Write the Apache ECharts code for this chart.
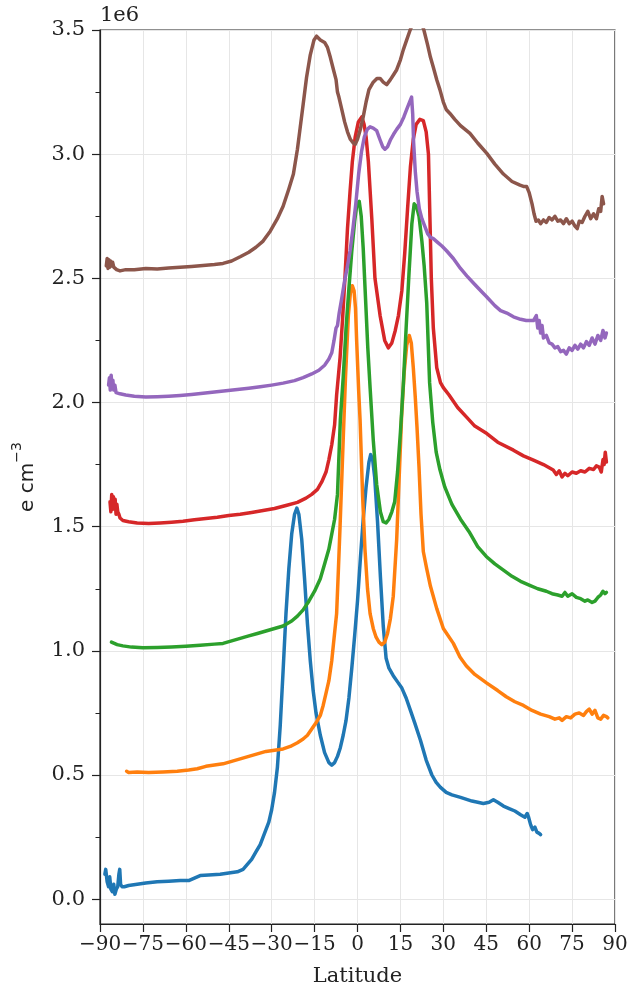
<!DOCTYPE html>
<html>
<head>
<meta charset="utf-8">
<script src="https://cdn.jsdelivr.net/npm/echarts@6/dist/echarts.min.js"></script>
<style>
  html, body { margin: 0; padding: 0; background: #fff; }
  #main { width: 631px; height: 992px; }
</style>
</head>
<body>
<div id="main"></div>
<script>
// axis ticks
const latTicks = [-90, -75, -60, -45, -30, -15, 0, 15, 30, 45, 60, 75, 90]
const yMajorTicks = [0, 0.5, 1.0, 1.5, 2.0, 2.5, 3.0, 3.5]
const yMinorTicks = [0.25, 0.75, 1.25, 1.75, 2.25, 2.75, 3.25]

// electron density profiles, [latitude, value in 1e6 e cm^-3]
const profile1 = [
  [-88.3, 0.10], [-88.0, 0.12], [-87.5, 0.07], [-87.0, 0.05], [-86.6, 0.09], [-86.2, 0.04],
  [-85.7, 0.03], [-85.2, 0.06], [-84.8, 0.02], [-84.3, 0.04], [-83.8, 0.05], [-83.4, 0.10],
  [-83.1, 0.12], [-82.8, 0.06], [-82.3, 0.05], [-81.5, 0.05], [-80, 0.055], [-77, 0.06],
  [-74, 0.065], [-70, 0.07], [-66, 0.072], [-62, 0.075], [-59, 0.075], [-57, 0.085],
  [-55, 0.095], [-52, 0.097], [-48, 0.10], [-45, 0.105], [-42, 0.11], [-40, 0.12],
  [-38.5, 0.14], [-37, 0.16], [-35.5, 0.19], [-34, 0.22], [-33, 0.25], [-32, 0.28],
  [-31, 0.31], [-30, 0.36], [-29, 0.43], [-28, 0.53], [-27, 0.70], [-26, 0.92],
  [-25, 1.15], [-24, 1.33], [-23, 1.47], [-22, 1.55], [-21.2, 1.575], [-20.5, 1.55],
  [-19.5, 1.45], [-18.5, 1.29], [-17.5, 1.11], [-16.5, 0.96], [-15.5, 0.84], [-14.5, 0.75],
  [-13, 0.66], [-11.5, 0.59], [-10, 0.55], [-9, 0.54], [-8, 0.55], [-7, 0.575],
  [-6, 0.61], [-5, 0.66], [-4, 0.72], [-3, 0.81], [-2, 0.93], [-1, 1.06], [0, 1.2],
  [1, 1.37], [2, 1.53], [3, 1.66], [4, 1.76], [4.6, 1.79], [5.3, 1.77], [6, 1.70],
  [7, 1.52], [8, 1.30], [9, 1.10], [10, 0.97], [11, 0.93], [12.5, 0.90], [14, 0.875],
  [15.5, 0.85], [17, 0.81], [18.5, 0.76], [20, 0.71], [22, 0.64], [24, 0.56], [26, 0.50],
  [27.5, 0.47], [29, 0.45], [31, 0.43], [33, 0.42], [36, 0.41], [40, 0.395], [44, 0.385],
  [46, 0.39], [47.5, 0.40], [49, 0.39], [51, 0.375], [53, 0.365], [55, 0.355], [57, 0.34],
  [58.5, 0.33], [59.3, 0.345], [59.8, 0.33], [60.5, 0.30], [61.2, 0.28], [62, 0.29],
  [62.7, 0.27], [63.5, 0.265], [64, 0.26]
]
const profile2 = [
  [-80.7, 0.515], [-80, 0.51], [-77, 0.512], [-73, 0.51], [-68, 0.512], [-63, 0.515],
  [-59, 0.52], [-56, 0.525], [-53, 0.535], [-50, 0.54], [-47, 0.545], [-44, 0.555],
  [-41, 0.565], [-38, 0.575], [-35, 0.585], [-32, 0.595], [-29, 0.60], [-26, 0.605],
  [-23.5, 0.615], [-21, 0.63], [-19, 0.645], [-17.5, 0.66], [-16, 0.685], [-14.5, 0.71],
  [-13, 0.74], [-12, 0.78], [-11, 0.83], [-10, 0.88], [-9, 0.96], [-8.2, 1.05],
  [-7.3, 1.15], [-6.7, 1.32], [-6.1, 1.50], [-5, 1.85], [-4.2, 2.10], [-3.2, 2.35],
  [-2.5, 2.44], [-1.8, 2.47], [-1.2, 2.45], [-0.7, 2.38], [-0.3, 2.25], [0.4, 2.05],
  [0.9, 1.93], [1.8, 1.62], [2.6, 1.41], [3.5, 1.25], [4.4, 1.15], [5.5, 1.09],
  [6.5, 1.055], [7.5, 1.035], [8.5, 1.025], [9.5, 1.035], [10.5, 1.07], [11.5, 1.13],
  [12.5, 1.22], [13.7, 1.45], [14.5, 1.68], [15.4, 1.94], [16.3, 2.12], [17.2, 2.23],
  [18.1, 2.27], [18.8, 2.24], [19.5, 2.14], [20.2, 2.02], [20.8, 1.90], [21.5, 1.74],
  [22.2, 1.55], [23, 1.40], [24.2, 1.33], [25.5, 1.26], [27.7, 1.17], [30, 1.09],
  [33.5, 1.03], [35.8, 0.975], [38, 0.94], [41, 0.905], [45.2, 0.87], [49, 0.84],
  [52, 0.815], [55, 0.795], [58, 0.78], [61, 0.76], [64, 0.745], [67, 0.735], [69, 0.725],
  [70.5, 0.73], [71.5, 0.72], [73, 0.735], [74.5, 0.73], [76, 0.745], [77.5, 0.75],
  [79, 0.74], [80, 0.755], [81, 0.765], [82, 0.745], [83, 0.76], [84, 0.73], [85, 0.725],
  [86, 0.74], [87, 0.735], [87.5, 0.73]
]
const profile3 = [
  [-86, 1.035], [-85.5, 1.04], [-85, 1.03], [-84, 1.025], [-82, 1.02], [-79, 1.015],
  [-75, 1.012], [-70, 1.013], [-65, 1.015], [-60, 1.018], [-55, 1.022], [-50, 1.027],
  [-47, 1.03], [-44, 1.04], [-41, 1.05], [-38, 1.06], [-35, 1.07], [-32, 1.08],
  [-29, 1.09], [-26, 1.10], [-23, 1.12], [-21, 1.14], [-19, 1.165], [-17, 1.20],
  [-15, 1.24], [-13, 1.29], [-11.5, 1.35], [-10, 1.41], [-9, 1.47], [-8, 1.53],
  [-7, 1.63], [-6, 1.93], [-5, 2.10], [-4, 2.30], [-3, 2.46], [-2, 2.61], [-1, 2.73],
  [-0.2, 2.80], [0.6, 2.81], [1.3, 2.75], [2, 2.62], [2.8, 2.42], [3.6, 2.22],
  [4.4, 2.06], [5.5, 1.85], [6.7, 1.67], [8, 1.56], [9, 1.52], [10, 1.515], [11, 1.53],
  [12, 1.56], [13, 1.60], [14, 1.72], [15, 1.88], [16, 2.07], [17, 2.30], [18, 2.52],
  [19, 2.72], [19.8, 2.80], [20.6, 2.79], [21.5, 2.75], [22.5, 2.65], [23.3, 2.55],
  [24.2, 2.40], [25.2, 2.08], [26.3, 1.92], [27.5, 1.80], [28.8, 1.73], [30.5, 1.66],
  [33, 1.59], [36, 1.53], [39, 1.48], [42, 1.42], [45, 1.38], [48, 1.35], [51, 1.325],
  [54, 1.30], [57, 1.28], [60, 1.265], [63, 1.25], [66, 1.24], [68, 1.23], [70, 1.225],
  [71.5, 1.22], [72.5, 1.235], [73.5, 1.22], [75, 1.23], [76.5, 1.215], [78, 1.21],
  [79.5, 1.20], [80.5, 1.205], [82, 1.195], [83, 1.20], [84, 1.215], [85, 1.225],
  [85.8, 1.24], [86.5, 1.23], [87, 1.235]
]
const profile4 = [
  [-86.5, 1.60], [-86.2, 1.56], [-85.9, 1.63], [-85.6, 1.57], [-85.3, 1.62], [-85, 1.58],
  [-84.7, 1.61], [-84.4, 1.55], [-84.1, 1.59], [-83.8, 1.56], [-83.4, 1.55], [-83, 1.535],
  [-82, 1.525], [-80, 1.52], [-77, 1.515], [-73, 1.513], [-69, 1.515], [-65, 1.518],
  [-61, 1.522], [-57, 1.528], [-53, 1.533], [-49, 1.538], [-45, 1.545], [-41, 1.55],
  [-37, 1.557], [-33, 1.565], [-29, 1.573], [-25, 1.585], [-21, 1.598], [-18, 1.615],
  [-16, 1.63], [-14, 1.65], [-12.5, 1.68], [-11, 1.72], [-10, 1.77], [-9, 1.83],
  [-8, 1.91], [-7.3, 2.03], [-6.1, 2.18], [-5.2, 2.34], [-4.4, 2.50], [-3.5, 2.70],
  [-2.6, 2.85], [-1.8, 2.97], [-0.8, 3.07], [0.3, 3.13], [1.5, 3.15], [2.3, 3.12],
  [3, 3.07], [3.8, 2.97], [5, 2.74], [6.1, 2.50], [7.9, 2.35], [9.5, 2.25], [10.8, 2.22],
  [12, 2.24], [13.2, 2.29], [14.3, 2.35], [15.5, 2.45], [16.5, 2.60], [17.5, 2.78],
  [18.5, 2.95], [19.5, 3.06], [20.5, 3.12], [21.8, 3.14], [23, 3.135], [24, 3.09],
  [24.8, 3.0], [25.3, 2.75], [25.8, 2.50], [26.5, 2.30], [27.7, 2.14], [29, 2.08],
  [30, 2.06], [32, 2.03], [35, 1.98], [38.2, 1.94], [41, 1.905], [45.2, 1.875],
  [49, 1.84], [54.5, 1.808], [58, 1.785], [61.5, 1.768], [65, 1.75], [68.4, 1.728],
  [69.5, 1.71], [70.5, 1.725], [71.5, 1.70], [72.5, 1.715], [73.5, 1.705], [75, 1.72],
  [76.5, 1.715], [78, 1.725], [79.5, 1.72], [81, 1.735], [82.5, 1.73], [83.5, 1.745],
  [84.5, 1.74], [85.2, 1.72], [85.8, 1.77], [86.2, 1.75], [86.6, 1.80], [87, 1.76]
]
const profile5 = [
  [-87, 2.07], [-86.7, 2.10], [-86.4, 2.05], [-86.1, 2.11], [-85.8, 2.06], [-85.5, 2.09],
  [-85.2, 2.05], [-84.8, 2.07], [-84.4, 2.04], [-84, 2.045], [-83, 2.035], [-81, 2.03],
  [-78, 2.025], [-74, 2.022], [-70, 2.023], [-66, 2.025], [-62, 2.028], [-58, 2.032],
  [-54, 2.037], [-50, 2.042], [-46, 2.047], [-42, 2.052], [-38, 2.057], [-34, 2.063],
  [-30, 2.07], [-26, 2.078], [-22, 2.088], [-19, 2.10], [-16, 2.115], [-13.5, 2.13],
  [-11.5, 2.15], [-10, 2.175], [-9, 2.20], [-8.2, 2.25], [-7.5, 2.30], [-7, 2.31],
  [-6.4, 2.36], [-5.5, 2.42], [-4.5, 2.49], [-3.5, 2.55], [-2.6, 2.61], [-1.6, 2.70],
  [-0.6, 2.80], [0.4, 2.92], [1.4, 3.01], [2.4, 3.07], [3.4, 3.10], [4.4, 3.11],
  [5.5, 3.105], [6.7, 3.095], [7.8, 3.06], [8.8, 3.03], [9.6, 3.02], [10.5, 3.03],
  [11.6, 3.06], [12.6, 3.08], [13.7, 3.10], [15, 3.12], [16.2, 3.15], [17.2, 3.18],
  [18.2, 3.21], [18.9, 3.23], [19.3, 3.16], [19.6, 3.05], [20.2, 2.93], [20.8, 2.85],
  [21.6, 2.78], [22.5, 2.74], [23.5, 2.71], [24.5, 2.68], [25.5, 2.665], [26.5, 2.66],
  [28, 2.645], [29.5, 2.63], [31.2, 2.61], [33.5, 2.58], [36, 2.54], [38.2, 2.51],
  [41, 2.475], [43.5, 2.445], [45.2, 2.425], [48, 2.39], [50, 2.37], [52.2, 2.36],
  [54.5, 2.345], [57, 2.335], [59, 2.33], [61.5, 2.33], [62.5, 2.35], [63, 2.30],
  [63.5, 2.33], [64, 2.28], [64.5, 2.31], [65, 2.26], [66, 2.27], [67, 2.24], [68, 2.235],
  [69, 2.22], [70, 2.225], [71, 2.205], [72, 2.21], [73, 2.195], [74, 2.22], [75, 2.21],
  [76, 2.23], [77, 2.215], [78, 2.235], [79, 2.22], [80, 2.245], [81, 2.23], [82, 2.26],
  [83, 2.235], [84, 2.27], [85, 2.25], [85.8, 2.29], [86.5, 2.26], [87, 2.28]
]
const profile6 = [
  [-87.8, 2.55], [-87.5, 2.58], [-87.2, 2.54], [-86.9, 2.575], [-86.6, 2.545], [-86.3, 2.57],
  [-86, 2.55], [-85.6, 2.565], [-85.2, 2.545], [-84.8, 2.55], [-84.2, 2.535], [-83, 2.53],
  [-81, 2.535], [-78, 2.535], [-74, 2.54], [-70, 2.538], [-66, 2.542], [-62, 2.545],
  [-58, 2.548], [-54, 2.552], [-50, 2.556], [-47, 2.56], [-44, 2.57], [-41, 2.587],
  [-38, 2.605], [-35.5, 2.625], [-33, 2.65], [-30.5, 2.69], [-28, 2.74], [-26, 2.79],
  [-24, 2.86], [-22.4, 2.92], [-21, 3.02], [-20, 3.11], [-19, 3.2], [-17.8, 3.31],
  [-16.5, 3.40], [-15.2, 3.46], [-14.3, 3.475], [-13, 3.46], [-11.5, 3.45], [-10.5, 3.43],
  [-9.5, 3.39], [-8.4, 3.34], [-7.5, 3.30], [-7, 3.25], [-6.5, 3.23], [-5.5, 3.18],
  [-4.5, 3.13], [-3.5, 3.09], [-2.5, 3.06], [-1.5, 3.045], [-0.8, 3.04], [0, 3.06],
  [1, 3.1], [2, 3.15], [3, 3.21], [4, 3.26], [5.5, 3.29], [6.8, 3.305], [7.9, 3.305],
  [9, 3.29], [10.2, 3.28], [11.5, 3.30], [12.6, 3.32], [13.7, 3.34], [15, 3.38],
  [16, 3.42], [17.2, 3.46], [18.4, 3.50], [19.5, 3.53], [21, 3.54], [22.3, 3.53],
  [23.2, 3.50], [24.5, 3.44], [25.5, 3.39], [26.5, 3.35], [27.7, 3.30], [28.8, 3.26],
  [30, 3.21], [31, 3.18], [32.3, 3.164], [34, 3.14], [36, 3.115], [39.3, 3.084],
  [42, 3.045], [45.2, 3.003], [48, 2.96], [51, 2.92], [54, 2.89], [56.8, 2.875],
  [58, 2.87], [59.1, 2.87], [60, 2.845], [61, 2.80], [61.7, 2.76], [62.4, 2.73],
  [63.2, 2.735], [64, 2.72], [65, 2.735], [66, 2.725], [67, 2.745], [68, 2.735],
  [69, 2.75], [70, 2.73], [71, 2.735], [72, 2.72], [73, 2.74], [74, 2.72], [75, 2.73],
  [76, 2.71], [76.8, 2.70], [77.5, 2.73], [78.5, 2.725], [79.5, 2.75], [80.5, 2.77],
  [81.5, 2.74], [82.5, 2.76], [83.5, 2.74], [84.3, 2.78], [85, 2.77], [85.5, 2.83],
  [86, 2.80]
]

const profiles = [profile1, profile2, profile3, profile4, profile5, profile6]
const colors = ['#1f77b4', '#ff7f0e', '#2ca02c', '#d62728', '#9467bd', '#8c564b']

const serif = 'DejaVu Serif'
const ink = '#222'

const chart = echarts.init(document.getElementById('main'))

const option = {
  animation: false,
  grid: {
    left: 100,
    right: 16,
    top: 30,
    bottom: 68,
    show: true,
    borderColor: ink,
    borderWidth: 1.2,
  },
  xAxis: {
    type: 'value',
    min: -90,
    max: 90,
    interval: 15,
    name: 'Latitude',
    nameLocation: 'middle',
    nameGap: 42,
    nameTextStyle: { fontFamily: serif, fontSize: 21, color: ink },
    axisLine: { show: true, onZero: false, lineStyle: { color: ink, width: 1.2 } },
    axisTick: { show: true, length: 8, customValues: latTicks, lineStyle: { color: ink, width: 1.2 } },
    axisLabel: {
      customValues: latTicks,
      showMinLabel: true,
      showMaxLabel: true,
      hideOverlap: false,
      fontFamily: serif,
      fontSize: 20,
      color: ink,
      margin: 11,
      formatter: (v) => String(v).replace('-', '\u2212'), // unicode minus like matplotlib
    },
    splitLine: { show: true, lineStyle: { color: '#e6e6e6', width: 1 } },
  },
  yAxis: [
    {
      type: 'value',
      min: -0.1,
      max: 3.5,
      position: 'left',
      name: '1e6',
      nameLocation: 'end',
      nameGap: 4,
      nameTextStyle: { fontFamily: serif, fontSize: 21, color: ink, align: 'left' },
      axisLine: { show: true, onZero: false, lineStyle: { color: ink, width: 1.2 } },
      axisTick: { show: true, length: 8, customValues: yMajorTicks, lineStyle: { color: ink, width: 1.2 } },
      axisLabel: {
        customValues: yMajorTicks,
        fontFamily: serif,
        fontSize: 21,
        color: ink,
        margin: 15,
        formatter: (v) => v.toFixed(1),
      },
      splitLine: { show: true, lineStyle: { color: '#e6e6e6', width: 1 } },
    },
    {
      // minor ticks + the quantity label
      type: 'value',
      min: -0.1,
      max: 3.5,
      position: 'left',
      name: '{base|e cm}{sup|\u22123}',
      nameLocation: 'middle',
      nameRotate: 90,
      nameGap: 62,
      nameTextStyle: {
        rich: {
          base: { fontFamily: 'DejaVu Sans', fontSize: 20, color: ink, lineHeight: 28, verticalAlign: 'bottom' },
          sup: { fontFamily: 'DejaVu Sans', fontSize: 14, color: ink, lineHeight: 14, verticalAlign: 'top' },
        },
      },
      axisLine: { show: false, onZero: false },
      axisTick: { show: true, length: 4.5, customValues: yMinorTicks, lineStyle: { color: ink, width: 1 } },
      axisLabel: { show: false },
      splitLine: { show: false },
    },
  ],
  series: profiles.map((data, i) => ({
    name: 'profile ' + (i + 1),
    type: 'line',
    data: data,
    showSymbol: false,
    symbol: 'none',
    clip: true,
    lineStyle: { color: colors[i], width: 3.5, join: 'round', cap: 'round' },
    itemStyle: { color: colors[i] },
  })),
}

option && chart.setOption(option)
</script>
</body>
</html>
